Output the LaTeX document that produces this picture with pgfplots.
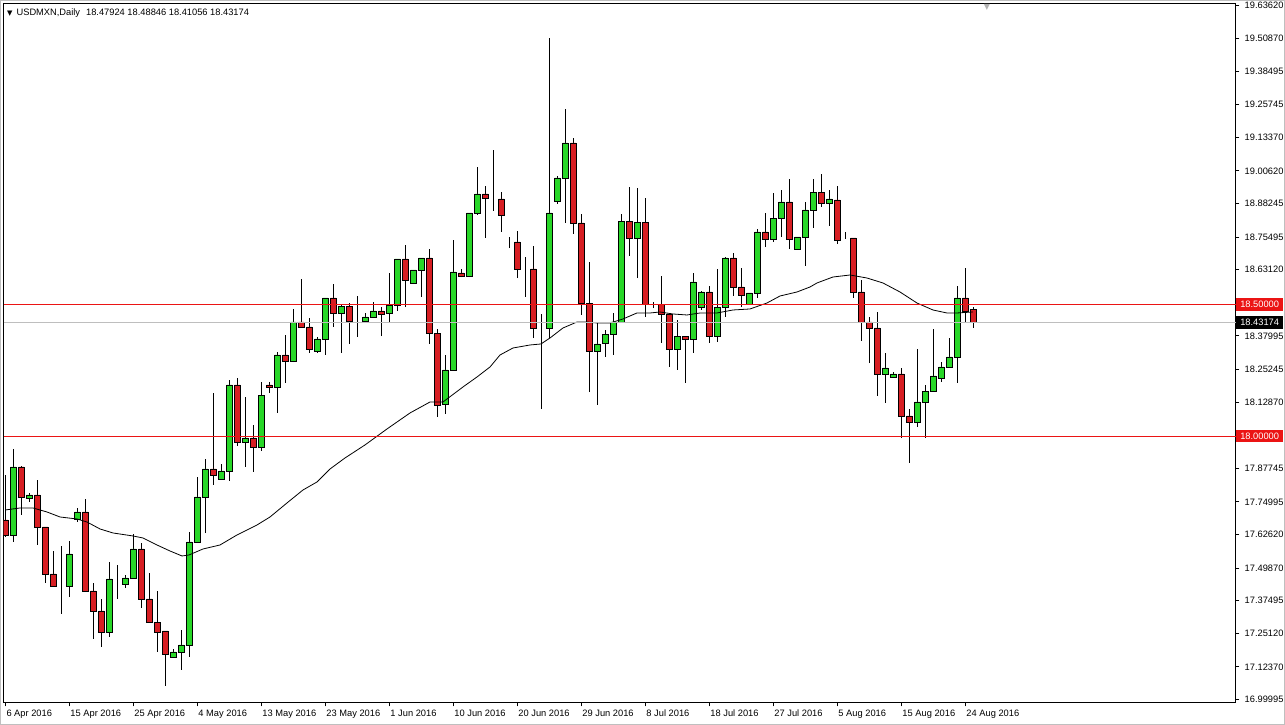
\documentclass[border=0pt]{standalone}
\usepackage{pgfplots}
\pgfplotsset{compat=1.18}
\usepackage{pgfplotstable}
\usepackage{fontspec}
\setmainfont{Liberation Sans}
\newfontfamily\sym{DejaVu Sans}
\definecolor{bull}{RGB}{40,215,40}
\definecolor{bear}{RGB}{215,30,35}
\definecolor{lvl}{RGB}{235,20,20}
\definecolor{bid}{RGB}{190,190,190}
\newcommand{\lab}{\fontsize{9.3}{11}\selectfont}

\pgfplotstableread{
i O H L C
0 17.6811 17.8519 17.6166 17.6241
1 17.6241 17.9506 17.5976 17.8823
2 17.8823 17.8850 17.7001 17.7684
3 17.7646 17.7836 17.7494 17.7760
4 17.7760 17.8330 17.5862 17.6545
5 17.6545 17.6560 17.4419 17.4761
6 17.4761 17.5634 17.4267 17.4305
7 17.4305 17.5824 17.3242 17.4305
8 17.4305 17.6014 17.3888 17.5520
9 17.6849 17.7267 17.6735 17.7115
10 17.7115 17.7608 17.4100 17.4116
11 17.4116 17.4419 17.2293 17.3356
12 17.3356 17.3812 17.1989 17.2559
13 17.2559 17.5216 17.2369 17.4571
14 17.4571 17.5102 17.3812 17.4571
15 17.4381 17.4723 17.4229 17.4609
16 17.4609 17.6279 17.4600 17.5710
17 17.5710 17.5938 17.3470 17.3812
18 17.3812 17.4799 17.2920 17.2938
19 17.2938 17.4116 17.1800 17.2559
20 17.2597 17.2610 17.0509 17.1724
21 17.1610 17.1914 17.1572 17.1800
22 17.1800 17.2635 17.1116 17.2066
23 17.2066 17.6356 17.1610 17.5976
24 17.5976 17.8444 17.5938 17.7684
25 17.7684 17.9127 17.6317 17.8747
26 17.8747 18.1633 17.8140 17.8519
27 17.8368 17.8937 17.8330 17.8671
28 17.8671 18.2126 17.8292 18.1936
29 18.1936 18.2202 17.9620 17.9772
30 17.9772 18.1481 17.8823 17.9924
31 17.9924 18.0418 17.8633 17.9582
32 17.9582 18.2050 17.9431 18.1556
33 18.1936 18.2050 18.1633 18.1860
34 18.1860 18.3189 18.0873 18.3075
35 18.3075 18.3834 18.2012 18.2847
36 18.2847 18.4821 18.2809 18.4328
37 18.4328 18.5960 18.4100 18.4138
38 18.4138 18.4480 18.3151 18.3303
39 18.3227 18.3759 18.3151 18.3683
40 18.3683 18.5239 18.3075 18.5239
41 18.5239 18.5771 18.4138 18.4670
42 18.4670 18.4973 18.3151 18.4935
43 18.4935 18.5049 18.3493 18.4366
44 18.4404 18.5315 18.3759 18.4404
45 18.4366 18.4670 18.4328 18.4518
46 18.4518 18.5087 18.4510 18.4746
47 18.4746 18.4897 18.3796 18.4632
48 18.4670 18.6188 18.4328 18.4973
49 18.4973 18.6720 18.4746 18.6720
50 18.6720 18.7251 18.4897 18.5922
51 18.5808 18.6302 18.5771 18.6302
52 18.6302 18.6758 18.5277 18.6758
53 18.6758 18.7099 18.3493 18.3910
54 18.3910 18.4062 18.0721 18.1177
55 18.1215 18.3075 18.0835 18.2506
56 18.2506 18.7441 18.2500 18.6226
57 18.6188 18.6340 18.6036 18.6074
58 18.6074 18.8466 18.6036 18.8466
59 18.8466 19.0213 18.8390 18.9188
60 18.9188 18.9491 18.7517 18.9036
61 18.8998 19.0858 18.8542 18.8998
62 18.8998 18.9263 18.7745 18.8390
63 18.7365 18.7555 18.7137 18.7365
64 18.7365 18.7783 18.5998 18.6340
65 18.6340 18.6796 18.5277 18.6340
66 18.6340 18.7213 18.3720 18.4100
67 18.4100 18.4632 18.1025 18.4100
68 18.4100 19.5110 18.3720 18.8466
69 18.8922 18.9871 18.8808 18.9795
70 18.9795 19.2414 18.8087 19.1124
71 19.1124 19.1314 18.7669 18.8087
72 18.8087 18.8428 18.4594 18.5049
73 18.5049 18.6606 18.1670 18.3227
74 18.3227 18.4290 18.1177 18.3493
75 18.3531 18.4024 18.2999 18.3872
76 18.3872 18.4670 18.3075 18.4328
77 18.4328 18.8428 18.4290 18.8162
78 18.8162 18.9453 18.6834 18.7517
79 18.7517 18.9415 18.5998 18.8124
80 18.8124 18.9036 18.4518 18.5011
81 18.5011 18.5087 18.4859 18.5011
82 18.5011 18.6074 18.3531 18.4632
83 18.4632 18.4670 18.2620 18.3303
84 18.3303 18.4404 18.2506 18.3796
85 18.3796 18.3810 18.2012 18.3683
86 18.3683 18.6188 18.3151 18.5847
87 18.4897 18.5505 18.4784 18.5467
88 18.5467 18.5695 18.3531 18.3796
89 18.3796 18.6340 18.3569 18.4897
90 18.4897 18.6796 18.4518 18.6758
91 18.6758 18.6948 18.5315 18.5657
92 18.5657 18.6378 18.4897 18.5353
93 18.5011 18.5429 18.5000 18.5429
94 18.5429 18.7859 18.5239 18.7745
95 18.7745 18.8466 18.7175 18.7479
96 18.7479 18.9225 18.7365 18.8276
97 18.8276 18.9339 18.7555 18.8884
98 18.8884 18.9757 18.7099 18.7479
99 18.7099 18.7555 18.7090 18.7555
100 18.7555 18.8884 18.6454 18.8580
101 18.8580 18.9757 18.7897 18.9263
102 18.9263 18.9947 18.8694 18.8846
103 18.8846 18.9339 18.7973 18.8998
104 18.8960 18.9491 18.7289 18.7441
105 18.7517 18.7745 18.7479 18.7517
106 18.7517 18.7530 18.5239 18.5467
107 18.5467 18.5922 18.3607 18.4328
108 18.4328 18.4518 18.2771 18.4100
109 18.4100 18.4708 18.1519 18.2354
110 18.2354 18.3151 18.1253 18.2582
111 18.2240 18.2430 18.2235 18.2354
112 18.2354 18.2582 17.9924 18.0759
113 18.0759 18.1025 17.8975 18.0532
114 18.0532 18.3303 18.0342 18.1291
115 18.1291 18.1936 17.9924 18.1708
116 18.1708 18.4062 18.1700 18.2278
117 18.2202 18.2809 18.2050 18.2620
118 18.2620 18.3720 18.2610 18.2999
119 18.2999 18.5695 18.2012 18.5239
120 18.5239 18.6378 18.4328 18.4746
121 18.47924 18.48846 18.41056 18.43174
}\candles

\pgfplotstableread{
i ma
0 17.7191
1.84 17.7267
3.46 17.7267
5.21 17.7115
6.84 17.6925
8.96 17.6849
10.21 17.6735
11.84 17.6470
13.46 17.6318
15.96 17.6204
17.21 17.6128
18.96 17.5862
20.59 17.5634
22.09 17.5445
22.96 17.5482
24.71 17.5710
26.84 17.5862
28.96 17.6242
31.46 17.6621
33.09 17.6925
35.21 17.7457
37.21 17.7950
38.96 17.8254
40.59 17.8747
42.46 17.9165
44.96 17.9659
47.71 18.0266
50.59 18.0874
53.09 18.1291
54.71 18.1291
57.21 18.1861
58.96 18.2240
60.59 18.2620
61.84 18.3075
63.46 18.3341
65.59 18.3455
66.96 18.3493
68.09 18.3721
69.71 18.4100
71.46 18.4328
72.71 18.4328
73.96 18.4290
75.59 18.4290
77.21 18.4442
78.96 18.4670
80.59 18.4670
81.84 18.4708
83.46 18.4632
85.21 18.4594
86.84 18.4670
88.96 18.4670
90.96 18.4784
93.09 18.4822
95.21 18.5049
96.84 18.5315
98.96 18.5467
100.59 18.5657
101.46 18.5809
103.46 18.6036
105.59 18.6112
107.71 18.5998
109.71 18.5809
111.84 18.5467
113.96 18.5049
115.96 18.4784
117.71 18.4670
118.96 18.4670
120.96 18.4708
}\matable

\pgfplotstableread{
x lo mid hi
-0.225 18.0 18.43174 18.5
153.84 18.0 18.43174 18.5
}\levels

\pgfplotsset{chartbase/.style={
  at={(3.5pt,22pt)}, anchor=south west, scale only axis,
  width=1232.5pt, height=699pt,
  xmin=-0.225, xmax=153.84, ymin=16.9863, ymax=19.6401}}

\begin{document}
\begin{tikzpicture}
\path[use as bounding box] (0,0) rectangle (1285pt,725pt);
\draw[black!25, line width=1pt] (0.5pt,0.5pt) rectangle (1284.5pt,724.5pt);

% frame, scales, title
\begin{axis}[chartbase, clip=false,
  axis line style={black, line width=1pt},
  tick align=outside, ytick pos=right, xtick pos=bottom,
  major tick length=3.5pt, tick style={black, line width=1pt},
  ytick={19.6362,19.5087,19.38495,19.25745,19.1337,19.0062,18.88245,18.75495,18.6312,18.37995,18.25245,18.1287,17.87745,17.74995,17.6262,17.4987,17.37495,17.2512,17.1237,16.99995},
  yticklabels={19.63620,19.50870,19.38495,19.25745,19.13370,19.00620,18.88245,18.75495,18.63120,18.37995,18.25245,18.12870,17.87745,17.74995,17.62620,17.49870,17.37495,17.25120,17.12370,16.99995},
  yticklabel style={font=\lab, anchor=west, inner sep=0pt, xshift=5pt},
  xtick={0,8,...,120},
  xticklabels={6 Apr 2016,15 Apr 2016,25 Apr 2016,4 May 2016,13 May 2016,23 May 2016,1 Jun 2016,10 Jun 2016,20 Jun 2016,29 Jun 2016,8 Jul 2016,18 Jul 2016,27 Jul 2016,5 Aug 2016,15 Aug 2016,24 Aug 2016},
  xticklabel style={font=\lab, anchor=north west, inner sep=0pt, xshift=1pt, yshift=-3pt},
]
\node[anchor=west, inner sep=0pt, xshift=3.5pt, yshift=-8.7pt, font=\lab]
  at (rel axis cs:0,1) {{\sym\fontsize{7}{8}\selectfont ▼}\hspace{4pt}USDMXN,Daily\hspace{6pt}18.47924 18.48846 18.41056 18.43174};
\node[anchor=north, inner sep=0pt, text=black!30, yshift=-0.5pt]
  at (axis cs:122.7,19.6401) {\sym\fontsize{8}{9}\selectfont ▼};
\end{axis}

% wicks
\begin{axis}[chartbase, hide axis]
\addplot[draw=none, mark=none,
  error bars/.cd, y dir=plus, y explicit, error mark=none,
  error bar style={draw=black, solid, line width=1pt}]
  table[x=i, y=L, y error expr=\thisrow{H}-\thisrow{L}] {\candles};
\end{axis}

% bodies
\begin{axis}[chartbase, hide axis, ybar stacked, bar width=5.5pt]
\addplot[draw=none, fill=none] table[x=i, y expr={min(\thisrow{O},\thisrow{C})}] {\candles};
\addplot[fill=bull, draw=black, line width=0.9pt] table[x=i, y expr={max(\thisrow{C}-\thisrow{O},0)}] {\candles};
\addplot[fill=bear, draw=black, line width=0.9pt] table[x=i, y expr={max(\thisrow{O}-\thisrow{C},0)}] {\candles};
\end{axis}

% moving average and levels on top
\begin{axis}[chartbase, hide axis, clip=false]
\addplot[draw=black, line width=0.8pt, mark=none] table[x=i, y=ma] {\matable};
\addplot[draw=bid, line width=1pt, mark=none] table[x=x, y=mid] {\levels};
\addplot[draw=lvl, line width=1pt, mark=none] table[x=x, y=hi] {\levels};
\addplot[draw=lvl, line width=0.9pt, mark=none] table[x=x, y=lo] {\levels};
\node[fill=lvl, text=white, font=\lab, anchor=west, inner sep=0pt,
  minimum width=47pt, minimum height=12.5pt] at (axis cs:153.84,18.5) {18.50000};
\node[fill=lvl, text=white, font=\lab, anchor=west, inner sep=0pt,
  minimum width=47pt, minimum height=12.5pt] at (axis cs:153.84,18.0) {18.00000};
\node[fill=black, text=white, font=\lab, anchor=west, inner sep=0pt,
  minimum width=47pt, minimum height=12.5pt] at (axis cs:153.84,18.43174) {18.43174};
\end{axis}
\end{tikzpicture}
\end{document}
